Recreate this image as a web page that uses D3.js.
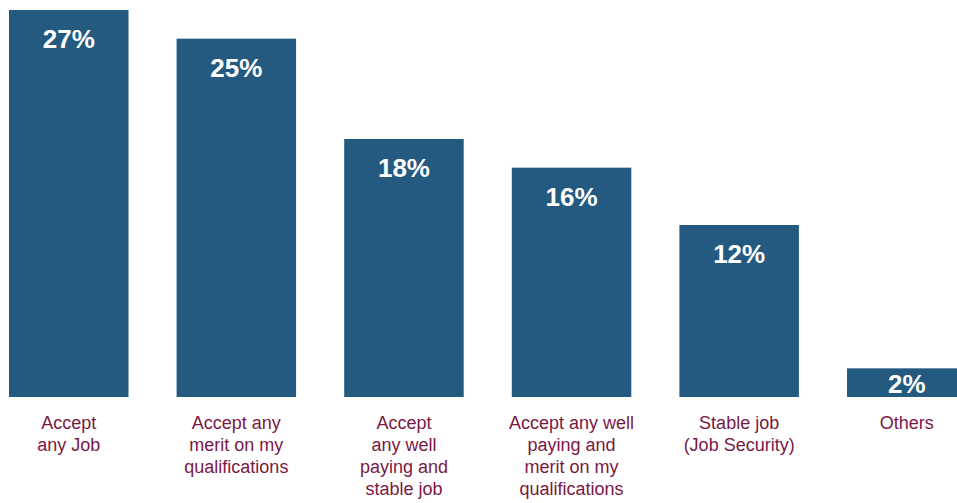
<!DOCTYPE html>
<html>
<head>
<meta charset="utf-8">
<script src="https://cdn.jsdelivr.net/npm/d3@7"></script>
<style>
  html, body { margin: 0; padding: 0; background: #ffffff; overflow: hidden; }
  svg { display: block; }
</style>
</head>
<body>
<svg id="chart" width="957" height="503"></svg>
<script>
// Preferred job choice, share of respondents (%)
const categories = [
  ["Accept", "any Job"],
  ["Accept any", "merit on my", "qualifications"],
  ["Accept", "any well", "paying and", "stable job"],
  ["Accept any well", "paying and", "merit on my", "qualifications"],
  ["Stable job", "(Job Security)"],
  ["Others"]
];
const values = [27, 25, 18, 16, 12, 2];
const valueLabels = ["27%", "25%", "18%", "16%", "12%", "2%"];

const barColor = "#245a80";
const labelColor = "#7a1844";

const svg = d3.select("#chart");
const baseY = 397;

const x = d3.scaleBand()
  .domain(d3.range(values.length))
  .range([9, 966.5])
  .paddingInner(0.287)
  .paddingOuter(0);

const y = d3.scaleLinear()
  .domain([0, 27])
  .range([baseY, 10]);

// Bars
svg.append("g")
  .selectAll("rect")
  .data(values)
  .join("rect")
  .attr("x", (d, i) => x(i))
  .attr("y", d => y(d))
  .attr("width", x.bandwidth())
  .attr("height", d => baseY - y(d))
  .attr("fill", barColor);

// Value labels inside the top of each bar
svg.append("g")
  .selectAll("text")
  .data(values)
  .join("text")
  .attr("x", (d, i) => x(i) + x.bandwidth() / 2)
  .attr("y", d => Math.min(y(d) + 38, baseY - 4))
  .attr("text-anchor", "middle")
  .attr("font-family", "Liberation Sans, Arial, sans-serif")
  .attr("font-weight", "bold")
  .attr("font-size", 26)
  .attr("fill", "#ffffff")
  .text((d, i) => valueLabels[i]);

// Category labels, multi-line, below the bars
const cat = svg.append("g")
  .selectAll("text")
  .data(categories)
  .join("text")
  .attr("text-anchor", "middle")
  .attr("font-family", "Liberation Sans, Arial, sans-serif")
  .attr("font-size", 18)
  .attr("fill", labelColor);

cat.selectAll("tspan")
  .data((d, i) => d.map(line => ({ line, i })))
  .join("tspan")
  .attr("x", d => x(d.i) + x.bandwidth() / 2)
  .attr("y", (d, j) => 429 + j * 22)
  .text(d => d.line);
</script>
</body>
</html>
